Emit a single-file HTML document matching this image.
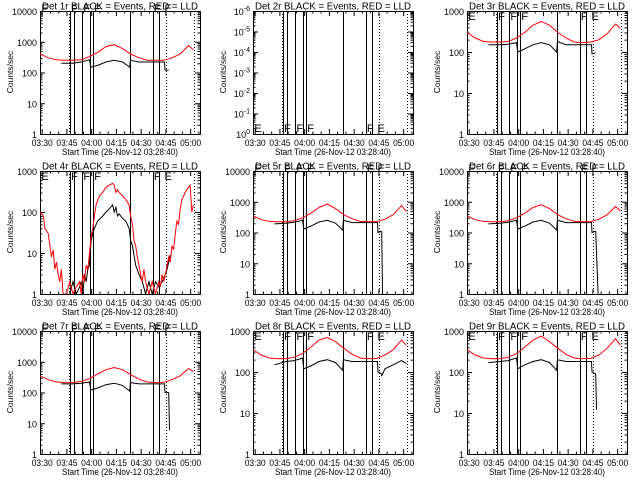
<!DOCTYPE html>
<html><head><meta charset="utf-8"><style>
html,body{margin:0;padding:0;background:#fff}
svg{display:block;font-family:"Liberation Sans",sans-serif}
</style></head><body>
<svg id="chart" width="640" height="480" viewBox="0 0 640 480" xmlns="http://www.w3.org/2000/svg"></svg>
<script>
const panelNames = ["1r","2r","3r","4r","5r","6r","7r","8r","9r"];
const panelYMax = [4,0,3,3,4,4,4,3,3];
const xTickLabels = ["03:30","03:45","04:00","04:15","04:30","04:45","05:00"];
const xTickMinutes = [1.33,16.33,31.33,46.33,61.33,76.33,91.33];
const solidLines = [18.2,20.6,25.6,30.3,32.3,54.6,68.5,71.9];
const dottedLines = [17.6,76.3,93.5];
const flagLetters = ["E","F","F","F","F","E"];
const flagMinutes = [0.5,18.6,26,32.6,68.7,75.2];
const redT = [0,5,10,15,20,25,30,35,40,45,50,55,60,65,70,75,80,85,90,93];
const red1 = [400,300,260,250,250,260,330,450,700,800,600,400,300,250,250,250,300,400,750,550];
const red3 = [300,220,180,175,175,180,220,300,450,550,450,300,220,175,170,175,200,280,480,380];
const red5 = [350,260,230,225,225,240,300,420,650,850,600,380,280,230,225,225,270,380,750,480];
const red6 = [350,260,230,225,225,240,300,420,650,800,600,380,280,230,225,225,270,380,700,500];
const red7 = [350,260,220,210,210,230,280,400,550,650,550,380,270,220,210,215,260,350,600,480];
const red8 = [350,260,220,210,210,230,280,400,600,700,550,380,270,220,210,215,260,350,600,450];
const red9 = [350,260,220,210,210,230,280,400,600,750,550,380,270,220,210,215,260,380,650,450];
const blackT = [13,20,25,30,30.8,35,40,45,50,54.4,54.8,60,70,75.5,75.8,78];
const black1 = [200,200,220,260,150,170,220,250,220,150,250,220,220,220,120,120];
const black3 = [150,150,155,170,100,120,150,170,150,100,180,150,150,150,90,95];
const black5 = [190,200,215,250,130,160,220,250,200,120,250,210,210,210,100,110];
const black6 = [190,200,215,250,130,160,220,250,200,120,250,210,210,210,100,110];
const black7 = [190,190,200,220,120,140,180,200,170,110,210,190,190,190,100,100];
const black8 = [150,180,190,220,120,140,180,200,170,110,200,180,180,180,100,90];
const black9 = [170,180,190,220,120,150,180,200,170,110,200,180,180,180,100,90];
const tail5T = [78,78.5];   const tail5V = [110,1];
const tail6T = [78,79.5];   const tail6V = [110,1];
const tail7T = [78,78.5];   const tail7V = [100,6];
const tail8T = [78,80,85,90,93]; const tail8V = [80,120,150,190,160];
const tail9T = [78,78.5];   const tail9V = [90,12];
const red4T = [0,2,3,5,6,7,8,9,10,11,12,13,14,16,18,20,22,24,25,26,27,28,29,30,31,32,33,34,36,38,40,42,44,45,46,47,48,50,52,54,55,56,57,58,59,60,61,62,63,64,66,68,70,72,73,74,75,76,77,78,79,80,81,82,83,84,85,86,88,90,91,92,93];
const red4V = [100,80,40,30,15,8,12,4,6,3,2,4,1,1,2,1,1.5,2,1,3,2,5,4,10,25,40,80,150,250,300,400,450,500,450,300,350,300,250,200,150,80,50,20,15,8,5,3,2,4,2,1,2,1,2,1.5,3,2,3,5,8,6,15,12,30,60,50,120,200,300,400,450,100,150];
const black4T = [18,20,22,24,25,26,27,28,29,30,31,32,33,35,38,40,42,44,45,46,47,48,50,52,54,55,56,58,60,62,64,66,68,70,72,74,76,77,78,79];
const black4V = [1,2,1,1.5,2,1,3,2,4,5,20,30,40,60,80,100,120,150,100,130,80,90,70,60,40,20,15,5,3,2,1,2,1,2,1.5,2,3,4,6,9];
const redSets = [red1,null,red3,null,red5,red6,red7,red8,red9];
const blackSets = [black1,null,black3,null,black5,black6,black7,black8,black9];
const tailT = [null,null,null,null,tail5T,tail6T,tail7T,tail8T,tail9T];
const tailV = [null,null,null,null,tail5V,tail6V,tail7V,tail8V,tail9V];

const NS="http://www.w3.org/2000/svg";
const svg=document.getElementById('chart');
function mk(tag,attrs,parent){const e=document.createElementNS(NS,tag);for(const k in attrs)e.setAttribute(k,attrs[k]);(parent||svg).appendChild(e);return e;}
const L=40,R=200,T=11,B=134,TMAX=97;
for(let p=0;p<9;p++){
  const ox=Math.round((p%3)*213.3), oy=Math.floor(p/3)*160;
  const g=mk('g',{transform:`translate(${ox},${oy})`});
  
  
  const xs=t=>L+t*(R-L)/TMAX;
  const ymax=panelYMax[p];
  const special=(p===1);
  const nd=special?6:ymax;
  const ys=v=>B-(Math.log10(Math.max(v,1)))*(B-T)/ymax;
  const ti=mk('text',{x:120,y:9.5,'text-anchor':'middle','font-size':'10',textLength:156,lengthAdjust:'spacingAndGlyphs'},g);ti.textContent='Det '+panelNames[p]+' BLACK = Events, RED = LLD';
  
  
  const bx=mk('rect',{x:L+0.5,y:T+0.5,width:R-L,height:B-T,fill:'none',stroke:'#000','stroke-width':1},g);
  
  
  for(let d=0;d<=nd;d++){
    const y=B-d*(B-T)/nd+0.5;
    mk('line',{x1:L,y1:y,x2:L+5,y2:y,stroke:'#000'},g);
    mk('line',{x1:R,y1:y,x2:R-5,y2:y,stroke:'#000'},g);
    const lb=mk('text',{x:37,y:y+3.5,'text-anchor':'end','font-size':'9'},g);
    if(special){lb.innerHTML='10<tspan dy="-4" font-size="7">'+(d===0?'0':'-'+d)+'</tspan>';}
    else lb.textContent=String(Math.pow(10,d));
    
    
    if(d<nd){for(let m=2;m<=9;m++){const yy=y-Math.log10(m)*(B-T)/nd;
      mk('line',{x1:L,y1:yy,x2:L+2.5,y2:yy,stroke:'#000'},g);
      mk('line',{x1:R,y1:yy,x2:R-2.5,y2:yy,stroke:'#000'},g);}}
  }
  const yt=mk('text',{x:0,y:0,'text-anchor':'middle','font-size':'8.5',transform:`translate(13,72) rotate(-90)`},g);yt.textContent='Counts/sec';
  
  
  xTickMinutes.forEach((t,i)=>{const x=xs(t);
    mk('line',{x1:x,y1:B,x2:x,y2:B-5,stroke:'#000'},g);
    mk('line',{x1:x,y1:T,x2:x,y2:T+5,stroke:'#000'},g);
    const lb=mk('text',{x:x,y:146,'text-anchor':'middle','font-size':'9',textLength:21,lengthAdjust:'spacingAndGlyphs'},g);lb.textContent=xTickLabels[i];
    
    
    for(let k=1;k<3;k++){const xm=xs(t+k*5);if(xm<R){mk('line',{x1:xm,y1:B,x2:xm,y2:B-2.5,stroke:'#000'},g);mk('line',{x1:xm,y1:T,x2:xm,y2:T+2.5,stroke:'#000'},g);}}
  });
  const xt=mk('text',{x:120,y:155,'text-anchor':'middle','font-size':'9.5',textLength:116,lengthAdjust:'spacingAndGlyphs'},g);xt.textContent='Start Time (26-Nov-12 03:28:40)';
  
  
  solidLines.forEach(t=>{const x=Math.round(xs(t))+0.5;const l=mk('line',{x1:x,y1:T,x2:x,y2:B,stroke:'#000'},g);
    
    });
  dottedLines.forEach(t=>{const x=Math.round(xs(t))+0.5;const l=mk('line',{x1:x,y1:T,x2:x,y2:B,stroke:'#000','stroke-dasharray':'1,2'},g);
    
    });
  flagLetters.forEach((f,i)=>{const fy=special?B-2:(ymax===4?T+1:T+9);
    const tx=mk('text',{x:xs(flagMinutes[i])+0.5,y:fy,'font-size':'11'},g);tx.textContent=f;
    
    });
  const clip='c'+p;const cp=mk('clipPath',{id:clip},g);mk('rect',{x:L,y:T,width:R-L,height:B-T},cp);
  function poly(tt,vv,col,name){const pts=tt.map((t,i)=>xs(t).toFixed(1)+','+ys(vv[i]).toFixed(1)).join(' ');
    const pl=mk('polyline',{points:pts,fill:'none',stroke:col,'stroke-width':1,'clip-path':`url(#${clip})`},g);
    
    }
  if(p===3){poly(black4T,black4V,'#000','black-events-series');poly(red4T,red4V,'#f00','red-lld-series');}
  else if(redSets[p]){
    poly(blackT,blackSets[p],'#000','black-events-series');
    if(tailT[p])poly([blackT[blackT.length-1]].concat(tailT[p]),[blackSets[p][blackSets[p].length-1]].concat(tailV[p]),'#000','black-events-tail');
    poly(redT,redSets[p],'#f00','red-lld-series');
  }
}
</script>
</body></html>
